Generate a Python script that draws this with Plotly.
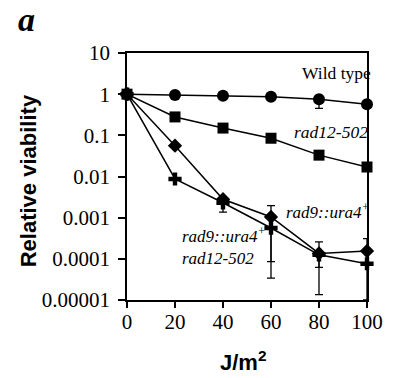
import plotly.graph_objects as go

# ---- data ----
dose = [0, 20, 40, 60, 80, 100]
wild_type = [1, 0.95, 0.92, 0.86, 0.75, 0.57]
rad12_502 = [1, 0.28, 0.15, 0.085, 0.033, 0.017]
rad9 = [1, 0.056, 0.0028, 0.00104, 0.000135, 0.000155]
rad9_rad12 = [1, 0.0087, 0.0023, 0.00056, 0.000125, 0.000076]

wild_err_plus = [0, 0, 0, 0, 0, 0]
wild_err_minus = [0, 0, 0, 0, 0.30, 0]
rad9_err_plus = [0, 0, 0, 0.00092, 0, 0.000155]
rad9_err_minus = [0, 0, 0, 0.000954, 0.000073, 0]
rad9_rad12_err_plus = [0, 0, 0, 0, 0.000132, 0]
rad9_rad12_err_minus = [0, 0, 0.00093, 0.000526, 0.0001115, 0.000066]

y_tickvals = [10, 1, 0.1, 0.01, 0.001, 0.0001, 0.00001]
y_ticktext = ["10", "1", "0.1", "0.01", "0.001", "0.0001", "0.00001"]
x_tickvals = [0, 20, 40, 60, 80, 100]

# ---- layout constants ----
W, H = 395, 378
L, R, T, B = 127, 20, 53, 78
PW, PH = W - L - R, H - T - B


def px(x):
    return (x - L) / PW


def py(y):
    return (H - B - y) / PH


serif = "Liberation Serif, Times New Roman, serif"
sans = "Liberation Sans, Arial, sans-serif"

fig = go.Figure()


def add(y, symbol, size, ep=None, em=None):
    err = None
    if ep is not None:
        err = dict(type="data", symmetric=False, array=ep, arrayminus=em,
                   color="black", thickness=1.3, width=4)
    fig.add_trace(go.Scatter(
        x=dose, y=y, mode="lines+markers",
        line=dict(color="black", width=1.5),
        marker=dict(symbol=symbol, size=size, color="black",
                    line=dict(color="black", width=0)),
        error_y=err, cliponaxis=False, showlegend=False))


add(rad9_rad12, "cross", 11, rad9_rad12_err_plus, rad9_rad12_err_minus)
add(rad9, "diamond", 11, rad9_err_plus, rad9_err_minus)
add(rad12_502, "square", 11)
add(wild_type, "circle", 12, wild_err_plus, wild_err_minus)

fig.update_xaxes(range=[0, 100], tickvals=x_tickvals, ticks="outside",
                 ticklen=6, tickwidth=1.5, tickcolor="black",
                 showline=True, linecolor="black", linewidth=1.5, mirror=True,
                 showgrid=False, zeroline=False, ticklabelstandoff=-4,
                 tickfont=dict(family=serif, size=21, color="black"))
fig.update_yaxes(type="log", range=[-5, 1], tickvals=y_tickvals,
                 ticktext=y_ticktext, ticks="outside", ticklen=7,
                 tickwidth=1.5, tickcolor="black",
                 showline=True, linecolor="black", linewidth=1.5, mirror=True,
                 showgrid=False, zeroline=False, ticklabelstandoff=4,
                 tickfont=dict(family=serif, size=21, color="black"))

ann = []
# panel letter
ann.append(dict(x=px(12), y=py(19), text="<b><i>a</i></b>", showarrow=False,
                xanchor="left", yanchor="middle",
                font=dict(family=serif, size=34, color="black")))
# axis titles
ann.append(dict(x=px(25), y=py(181), text="<b>Relative viability</b>",
                textangle=-90, showarrow=False, xanchor="center", yanchor="middle",
                font=dict(family=sans, size=22, color="black")))
ann.append(dict(x=px(247), y=py(361), text="<b>J/m<sup>2</sup></b>",
                showarrow=False, xanchor="center", yanchor="middle",
                font=dict(family=sans, size=22, color="black")))
# series labels
ann.append(dict(x=px(306), y=py(73), text="Wild type", showarrow=False,
                xanchor="left", yanchor="middle",
                font=dict(family=serif, size=17.5, color="black")))
ann.append(dict(x=px(298), y=py(132), text="<i>rad12-502</i>", showarrow=False,
                xanchor="left", yanchor="middle",
                font=dict(family=serif, size=17.5, color="black")))
ann.append(dict(x=px(289), y=py(211), text="<i>rad9::ura4<sup>+</sup></i>",
                showarrow=False, xanchor="left", yanchor="middle",
                font=dict(family=serif, size=17, color="black")))
ann.append(dict(x=px(182), y=py(246),
                text="<i>rad9::ura4<sup>+</sup></i><br><i>rad12-502</i>",
                showarrow=False, xanchor="left", yanchor="middle", align="left",
                font=dict(family=serif, size=17, color="black")))
for a in ann:
    a["xref"] = "paper"
    a["yref"] = "paper"

fig.update_layout(width=W, height=H, margin=dict(l=L, r=R, t=T, b=B),
                  plot_bgcolor="white", paper_bgcolor="white",
                  annotations=ann, showlegend=False)

fig.write_html("out.html", config={"displayModeBar": False},
               post_script="document.body.style.margin='0';"
                           "document.body.style.overflow='hidden';")
